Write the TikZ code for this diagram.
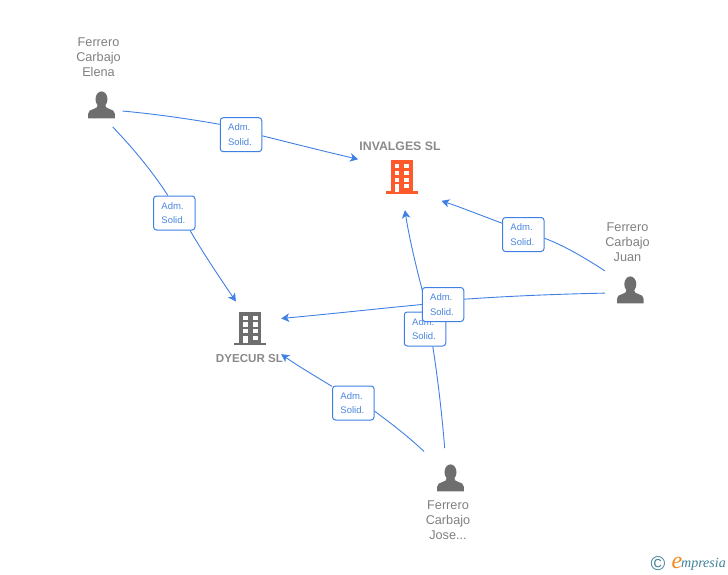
\documentclass[tikz,border=0pt]{standalone}
\usepackage{fontspec}
\setmainfont{Liberation Sans}
\newfontfamily\logofont{Liberation Serif}
\usetikzlibrary{arrows.meta}
\pgfdeclarelayer{lines}
\pgfsetlayers{lines,main}
\definecolor{linkblue}{HTML}{3F80E4}
\definecolor{textblue}{HTML}{4A86E0}
\definecolor{namegray}{HTML}{808080}
\definecolor{boldgray}{HTML}{8A8A8A}
\definecolor{icongray}{HTML}{6E6E6E}
\definecolor{redorange}{HTML}{FF5A2B}
\definecolor{logoblue}{HTML}{3E8199}
\definecolor{logoorange}{HTML}{F08A1C}
\tikzset{
  x=1pt,y=-1pt,
  conn/.style={draw=linkblue,line width=0.9pt},
  connarrow/.style={conn,-{Stealth[length=8pt,width=8.5pt,inset=2.2pt]}},
  labelbox/.style={draw=linkblue,line width=1pt,fill=white,rounded corners=3pt,
    minimum width=41.5pt,minimum height=34pt,inner sep=0pt,align=center,
    text=textblue,font=\fontsize{9.5}{14.6}\selectfont},
  anchorbox/.style={rectangle,inner sep=0pt,draw=none,fill=none},
  personname/.style={align=center,text=namegray,inner sep=0pt,font=\fontsize{12.7}{15}\selectfont},
  companyname/.style={text=boldgray,inner sep=0pt,font=\bfseries\fontsize{12.3}{15}\selectfont},
}
\newcommand{\drawbuilding}[3]{%
  \begin{scope}[shift={(#1,#2)}]
    \fill[#3] (-11,-17) rectangle (11,15);
    \fill[#3] (-16,14) rectangle (16,16.6);
    \fill[white] (-7,-13) rectangle (-2.6,-8.8);
    \fill[white] (2.4,-13) rectangle (7.2,-8.8);
    \fill[white] (-7,-6.3) rectangle (-2.6,-2);
    \fill[white] (2.4,-6.3) rectangle (7.2,-2);
    \fill[white] (-7,0.7) rectangle (-2.6,4.7);
    \fill[white] (2.4,0.7) rectangle (7.2,4.7);
    \fill[white] (-7,7) rectangle (-2.6,14.7);
    \fill[white] (2.4,7) rectangle (7.2,11.3);
  \end{scope}}
\newcommand{\drawperson}[2]{%
  \begin{scope}[shift={(#1,#2)}]
    \fill[icongray] (0,-5.8) ellipse (6 and 7.8);
    \fill[icongray] (-13.3,13.4) -- (-13.3,8.8)
      .. controls (-13.3,5.8) and (-11,5) .. (-8.5,4.2)
      .. controls (-5.5,3.2) and (-3.6,2.6) .. (-3.6,-0.5)
      -- (3.6,-0.5)
      .. controls (3.6,2.6) and (5.5,3.2) .. (8.5,4.2)
      .. controls (11,5) and (13.3,5.8) .. (13.3,8.8)
      -- (13.3,13.4) -- cycle;
  \end{scope}}
\begin{document}
\begin{tikzpicture}
\useasboundingbox (0,0) rectangle (728,575);

% icon footprints the connectors attach to
\node[anchorbox,minimum width=41.6pt,minimum height=43.4pt] (elena) at (101.5,105) {};
\node[anchorbox,minimum width=50.6pt,minimum height=38pt] (juan) at (630.3,290) {};
\node[anchorbox,minimum width=52.4pt,minimum height=59.4pt] (jose) at (450.5,478) {};
\node[anchorbox,minimum width=87.4pt,minimum height=66pt] (invalges) at (402,177) {};
\node[anchorbox,minimum width=62pt,minimum height=52.6pt] (dyecur) at (250,328) {};

\drawperson{101.5}{105}
\drawperson{630.3}{290}
\drawperson{450.5}{478}
\drawbuilding{402}{177}{redorange}
\drawbuilding{250.3}{328.5}{icongray}

% names
\node[personname] (elenaname) at (98.5,57) {Ferrero\\Carbajo\\Elena};
\node[personname] (juanname) at (627.5,242) {Ferrero\\Carbajo\\Juan};
\node[personname] (josename) at (448,520) {Ferrero\\Carbajo\\Jose...};
\node[companyname] (invalgesname) at (400,146) {INVALGES SL};
\node[companyname,font=\bfseries\fontsize{11.6}{15}\selectfont] (dyecurname) at (249.5,358.5) {DYECUR SL};

% labels
\node[labelbox] (la) at (241,134.7) {Adm.\kern3.5pt\\Solid.\kern2pt};
\node[labelbox] (lb) at (174.3,213) {Adm.\kern3.5pt\\Solid.\kern2pt};
\node[labelbox] (lc) at (523.3,234.5) {Adm.\kern3.5pt\\Solid.\kern2pt};
\node[labelbox] (le) at (425,329) {Adm.\kern3.5pt\\Solid.\kern2pt};
\node[labelbox] (ld) at (443,304.5) {Adm.\kern3.5pt\\Solid.\kern2pt};
\node[labelbox] (lf) at (353.3,403) {Adm.\kern3.5pt\\Solid.\kern2pt};

% connectors
\begin{pgfonlayer}{lines}
\draw[conn] (elena.-16) .. controls (155,114) and (190,119) .. (la.154.5);
\draw[connarrow] (la.-3.6) .. controls (295,144) and (327,152) .. (invalges.158);
\draw[conn] (elena.-63.5) .. controls (130,145) and (150,168) .. (lb.110);
\draw[connarrow] (lb.-48.6) .. controls (205,256) and (220,278) .. (dyecur.118);
\draw[conn] (juan.143) .. controls (585,258) and (565,246) .. (lc.-10);
\draw[connarrow,shorten >=-4.7pt] (lc.152) .. controls (480,215) and (460,207) .. (invalges.-30.5);
\draw[conn] (juan.187.5) .. controls (560,294) and (510,296) .. (ld.14);
\draw[connarrow] (ld.180) .. controls (375,309) and (330,314) .. (dyecur.17.4);
\draw[conn] (jose.101.8) .. controls (442,415) and (438,380) .. (le.-66.8);
\draw[connarrow] (le.80) .. controls (420,283) and (410,243) .. (invalges.-85);
\draw[conn] (jose.135.6) .. controls (410,438) and (392,424) .. (lf.-21.8);
\draw[connarrow] (lf.142) .. controls (315,376) and (298,366) .. (dyecur.-40.3);
\end{pgfonlayer}

% logo
\node[inner sep=0pt,text=logoblue,font=\fontsize{20}{20}\selectfont] (copyr) at (658,564) {©};
\node[inner sep=0pt,text=logoorange,font=\logofont\itshape\fontsize{24}{24}\selectfont] (logoe) at (677,563) {e};
\node[inner sep=0pt,anchor=base west,text=logoblue,font=\logofont\itshape\fontsize{14}{14}\selectfont] (logotext) at (681,567.7) {mpresia};
\end{tikzpicture}
\end{document}
